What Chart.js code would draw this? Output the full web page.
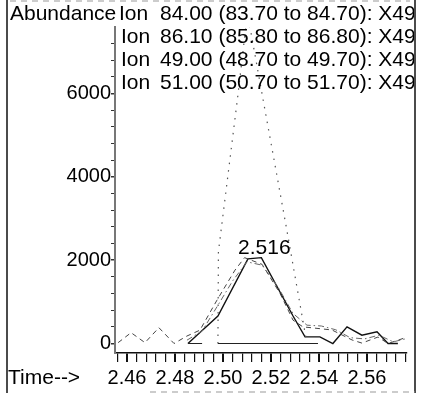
<!DOCTYPE html>
<html>
<head>
<meta charset="utf-8">
<title>Ion chromatogram</title>
<script src="https://cdn.jsdelivr.net/npm/chart.js@4.4.1/dist/chart.umd.min.js"></script>
<style>
  html, body { margin: 0; padding: 0; background: #fff; }
  #wrap { width: 425px; height: 402px; }
</style>
</head>
<body>
<div id="wrap"><canvas id="tic" width="425" height="402"></canvas></div>
<script>
// extracted ion traces (time in min, abundance)
const ion84Time = [2.4854, 2.4979, 2.5104, 2.5160, 2.5292, 2.5342, 2.5404, 2.5458, 2.5517, 2.5579, 2.5642, 2.5688, 2.5729];
const ion84Abund = [0, 660, 2030, 2060, 660, 160, 160, 0, 400, 200, 280, 0, 0];

const ion86Time = [2.4563, 2.4617, 2.4675, 2.4733, 2.4796, 2.4850, 2.4904, 2.4975, 2.5050, 2.5090, 2.5163, 2.5238, 2.5292, 2.5333, 2.5454, 2.5538, 2.5579, 2.5646, 2.5688, 2.5758];
const ion86Abund = [20, 260, 20, 380, 0, 180, 320, 1040, 1760, 2060, 1900, 1200, 560, 400, 325, 85, 10, 155, 0, 135];

const ion49Time = [2.4979, 2.4981, 2.5061, 2.5102, 2.5167, 2.5265, 2.5350];
const ion49Abund = [0, 2200, 5900, 7930, 5860, 2760, 0];

const ion51Time = [2.4850, 2.4913, 2.4975, 2.5040, 2.5100, 2.5163, 2.5230, 2.5292, 2.5350, 2.5410, 2.5470, 2.5530, 2.5590, 2.5650, 2.5710, 2.5760];
const ion51Abund = [80, 300, 880, 1500, 1960, 1880, 1350, 720, 440, 420, 330, 140, 110, 200, 40, 110];

// integration baselines (null splits the two segments)
const baseTime = [2.4854, 2.4913, 2.4946, 2.4979, 2.5396];
const baseAbund = [0, 0, null, 0, 0];

const ionLabels = [
  "84.00 (83.70 to 84.70): X49",
  "86.10 (85.80 to 86.80): X49",
  "49.00 (48.70 to 49.70): X49",
  "51.00 (50.70 to 51.70): X49",
];

const peakTime = 2.516;
const peakLabel = "2.516";

const xMin = 2.455, xMax = 2.5767;
const yMin = -228, yMax = 7596;

const pts = (xs, ys) => xs.map((x, i) => ({ x: x, y: ys[i] }));

Chart.defaults.font.family = "'Liberation Sans', Arial, sans-serif";
Chart.defaults.color = "#000";

function trace(data, color, width, dash) {
  return {
    data: data,
    borderColor: color,
    borderWidth: width,
    borderDash: dash,
    pointRadius: 0,
    tension: 0,
    fill: false,
    spanGaps: false,
  };
}

// frame, header text, peak label
const decor = {
  id: "decor",
  afterDraw(chart) {
    const ctx = chart.ctx;
    const x = chart.scales.x, y = chart.scales.y;
    ctx.save();

    ctx.strokeStyle = "#111";
    ctx.lineWidth = 1.5;
    ctx.beginPath();
    ctx.moveTo(7, 0); ctx.lineTo(7, 393);
    ctx.moveTo(415, 0); ctx.lineTo(415, 393);
    ctx.stroke();
    ctx.strokeStyle = "#999";
    ctx.lineWidth = 1;
    ctx.setLineDash([6, 5]);
    ctx.beginPath();
    ctx.moveTo(10, 1); ctx.lineTo(410, 1);
    ctx.moveTo(150, 392); ctx.lineTo(415, 392);
    ctx.stroke();
    ctx.setLineDash([]);

    ctx.fillStyle = "#000";
    ctx.font = "21px 'Liberation Sans', Arial, sans-serif";
    ctx.textBaseline = "alphabetic";
    ctx.textAlign = "left";
    ctx.fillText("Abundance", 10, 20);

    ctx.beginPath();
    ctx.rect(0, 0, 414, 402);
    ctx.clip();
    ionLabels.forEach((t, i) => {
      const by = 20 + i * 23;
      ctx.fillText("Ion", i === 0 ? 119 : 121, by);
      ctx.fillText(t, 160, by);
    });
    ctx.restore();

    ctx.save();
    ctx.fillStyle = "#000";
    ctx.font = "21px 'Liberation Sans', Arial, sans-serif";
    ctx.textBaseline = "middle";
    ctx.fillText("Time-->", 8, 378);

    const px = x.getPixelForValue(peakTime);
    const py = y.getPixelForValue(ion84Abund[ion84Time.indexOf(2.5160)]);
    ctx.textAlign = "center";
    ctx.textBaseline = "alphabetic";
    ctx.fillText(peakLabel, px + 3, py - 4);
    ctx.restore();
  },
};

new Chart(document.getElementById("tic"), {
  type: "line",
  data: {
    datasets: [
      trace(pts(baseTime, baseAbund), "#222", 1, []),
      trace(pts(ion49Time, ion49Abund), "#555", 1.2, [1.5, 6]),
      trace(pts(ion51Time, ion51Abund), "#666", 1, [6, 3, 1.5, 3]),
      trace(pts(ion86Time, ion86Abund), "#444", 1, [5, 4]),
      trace(pts(ion84Time, ion84Abund), "#111", 1.4, []),
    ],
  },
  options: {
    responsive: false,
    animation: false,
    events: [],
    layout: { padding: { left: 0, right: 18, top: 27, bottom: 0 } },
    plugins: { legend: { display: false }, tooltip: { enabled: false } },
    scales: {
      x: {
        type: "linear",
        min: xMin,
        max: xMax,
        afterFit: (s) => { s.height = 49; },
        border: { display: true, color: "#111", width: 1.5 },
        grid: {
          drawOnChartArea: false,
          tickLength: 9,
          color: "#111",
          lineWidth: (c) => (Math.abs(c.tick.value * 50 - Math.round(c.tick.value * 50)) < 1e-6 ? 2 : 1.2),
        },
        ticks: {
          stepSize: 0.004,
          includeBounds: false,
          autoSkip: false,
          maxRotation: 0,
          minRotation: 0,
          padding: 4,
          font: { size: 20 },
          callback: (v) => (Math.abs(v * 50 - Math.round(v * 50)) < 1e-6 ? v.toFixed(2) : ""),
        },
      },
      y: {
        min: yMin,
        max: yMax,
        afterFit: (s) => { s.width = 115; },
        border: { display: true, color: "#777", width: 2 },
        grid: {
          drawOnChartArea: false,
          tickLength: 4,
          color: "#333",
          lineWidth: (c) => (c.tick.value % 2000 === 0 ? 1.5 : 1),
        },
        ticks: {
          stepSize: 400,
          includeBounds: false,
          autoSkip: false,
          padding: 0,
          font: { size: 20 },
          callback: (v) => (v % 2000 === 0 ? String(v) : ""),
        },
      },
    },
  },
  plugins: [decor],
});
</script>
</body>
</html>
